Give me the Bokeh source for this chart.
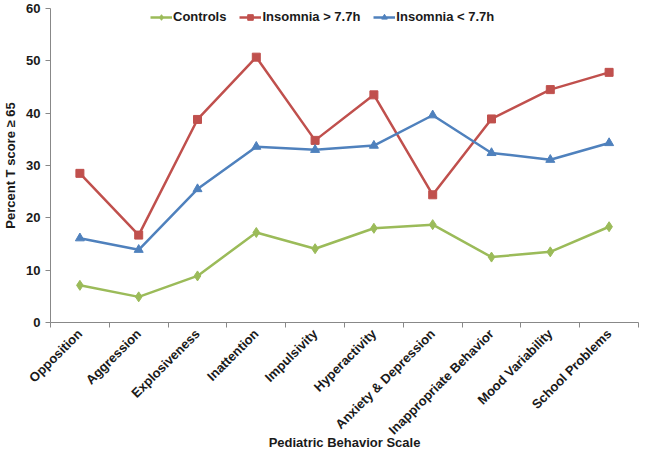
import numpy as np
from bokeh.plotting import figure
from bokeh.models import Range1d, FixedTicker
from bokeh.embed import file_html
from bokeh.resources import INLINE

categories = ["Opposition", "Aggression", "Explosiveness", "Inattention", "Impulsivity",
              "Hyperactivity", "Anxiety & Depression", "Inappropriate Behavior",
              "Mood Variability", "School Problems"]
controls = [7.1, 4.9, 8.9, 17.2, 14.1, 18.0, 18.7, 12.5, 13.5, 18.3]
insomnia_long = [28.5, 16.7, 38.8, 50.7, 34.8, 43.5, 24.4, 38.9, 44.5, 47.8]
insomnia_short = [16.1, 13.9, 25.5, 33.6, 33.0, 33.8, 39.6, 32.4, 31.1, 34.3]
y_ticks = [0, 10, 20, 30, 40, 50, 60]

FONT = "Liberation Sans"
xs = [i + 0.5 for i in range(len(categories))]

p = figure(width=639, height=452, output_backend="svg", toolbar_location=None,
           x_range=Range1d(0, len(categories)), y_range=Range1d(0, 60),
           min_border_top=8, min_border_right=1, min_border_left=0, min_border_bottom=0)
p.outline_line_color = None
p.xgrid.visible = False
p.ygrid.visible = False

series = [
    ("Controls", controls, "#9BBB59", "diamond", 10),
    ("Insomnia > 7.7h", insomnia_long, "#C0504D", "square", 8),
    ("Insomnia < 7.7h", insomnia_short, "#4F81BD", "triangle", 9),
]
for name, vals, col, mk, sz in series:
    p.line(xs, vals, line_color=col, line_width=2.5, legend_label=name)
    p.scatter(xs, vals, marker=mk, size=sz, fill_color=col, line_color=col, legend_label=name)

# x axis
xa = p.xaxis[0]
xa.ticker = FixedTicker(ticks=xs, minor_ticks=list(range(len(categories) + 1)))
xa.major_label_overrides = {x: c for x, c in zip(xs, categories)}
xa.major_label_orientation = np.pi / 4
xa.major_tick_line_color = None
xa.minor_tick_line_color = "#888888"
xa.minor_tick_out = 5
xa.minor_tick_in = 0
xa.axis_line_color = "#888888"
xa.major_label_text_font = FONT
xa.major_label_text_font_style = "bold"
xa.major_label_text_font_size = "13px"
xa.major_label_text_color = "#1a1a1a"
xa.major_label_standoff = 3
xa.axis_label = "Pediatric Behavior Scale"
xa.axis_label_text_font = FONT
xa.axis_label_text_font_style = "bold"
xa.axis_label_text_font_size = "13px"
xa.axis_label_text_color = "#1a1a1a"
xa.axis_label_standoff = -11

# y axis
ya = p.yaxis[0]
ya.ticker = FixedTicker(ticks=y_ticks)
ya.minor_tick_line_color = None
ya.major_tick_line_color = "#888888"
ya.major_tick_out = 5
ya.major_tick_in = 0
ya.axis_line_color = "#888888"
ya.major_label_text_font = FONT
ya.major_label_text_font_style = "bold"
ya.major_label_text_font_size = "13px"
ya.major_label_text_color = "#1a1a1a"
ya.major_label_standoff = 5
ya.axis_label = "Percent T score \u2265 65"
ya.axis_label_text_font = FONT
ya.axis_label_text_font_style = "bold"
ya.axis_label_text_font_size = "13px"
ya.axis_label_text_color = "#1a1a1a"
ya.axis_label_standoff = 5

lg = p.legend[0]
lg.orientation = "horizontal"
lg.location = (100, 298)
lg.border_line_color = None
lg.background_fill_alpha = 0
lg.label_text_font = FONT
lg.label_text_font_style = "bold"
lg.label_text_font_size = "13px"
lg.label_text_color = "#1a1a1a"
lg.glyph_width = 22
lg.glyph_height = 14
lg.label_standoff = 1
lg.spacing = 13
lg.padding = 0
lg.margin = 0

open("out.html", "w").write(file_html(p, INLINE))
